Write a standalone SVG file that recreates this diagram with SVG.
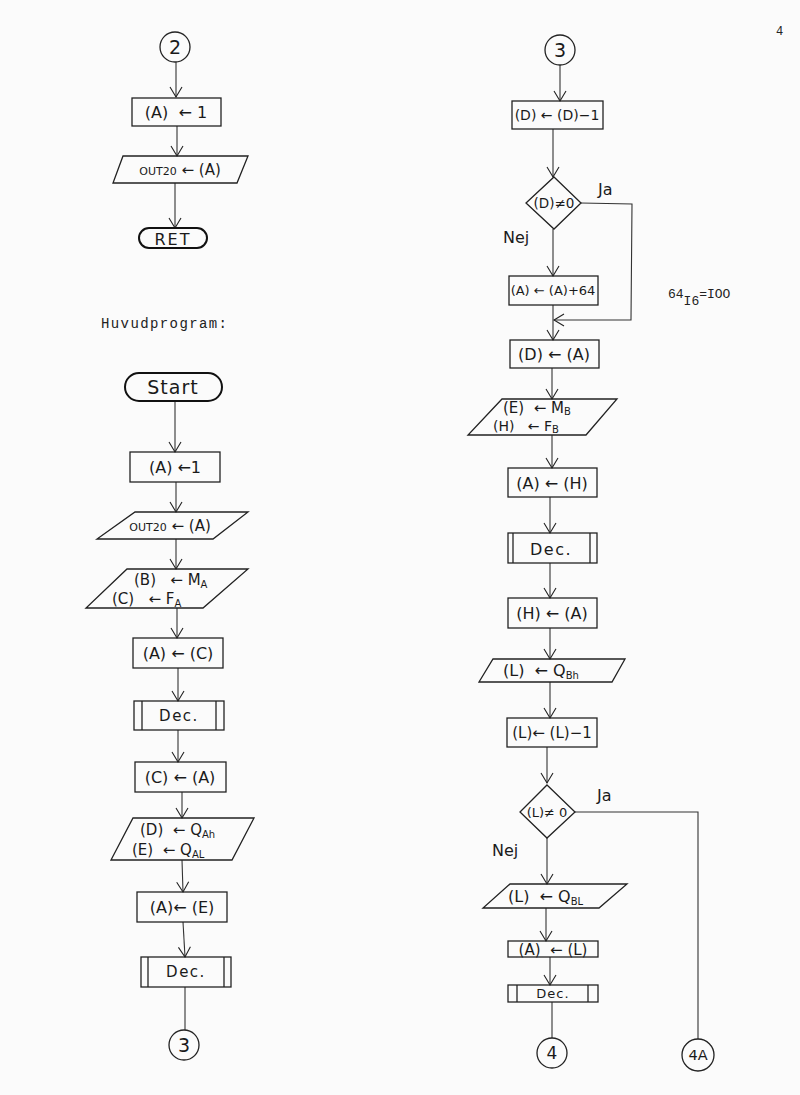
<svg xmlns="http://www.w3.org/2000/svg" width="800" height="1095" viewBox="0 0 800 1095" font-size="16">
<defs>
<marker id="av" markerWidth="14" markerHeight="14" refX="12" refY="7" orient="auto" markerUnits="userSpaceOnUse" viewBox="0 0 14 14">
<path d="M2,1 L12,7 L2,13" fill="none" stroke="#222" stroke-width="1.1"/>
</marker>
</defs>
<style>
.n { fill: none; stroke: #222; stroke-width: 1.3; }
.term { fill: none; stroke: #111; stroke-width: 2; }
.c { fill: none; stroke: #333; stroke-width: 1.1; }
.t { font-family: "DejaVu Sans", sans-serif; fill: #1a1a1a; white-space: pre; }
.m { text-anchor: middle; }
.s { font-size: 10px; }
.mono { font-family: "Liberation Mono", monospace; fill: #222; }
</style>
<rect width="800" height="1095" fill="#fbfbfb"/>
<text x="776" y="35" class="mono" font-size="12">4</text>
<text x="101" y="328" class="mono" font-size="14" letter-spacing="1.4">Huvudprogram:</text>

<g id="connectors">
<line class="c" x1="176" y1="62" x2="176" y2="97" marker-end="url(#av)"/>
<line class="c" x1="177" y1="126" x2="177" y2="156" marker-end="url(#av)"/>
<line class="c" x1="175" y1="183" x2="175" y2="228" marker-end="url(#av)"/>
<line class="c" x1="175" y1="400" x2="175" y2="452" marker-end="url(#av)"/>
<line class="c" x1="176" y1="482" x2="176" y2="512" marker-end="url(#av)"/>
<line class="c" x1="176" y1="539" x2="176" y2="569" marker-end="url(#av)"/>
<line class="c" x1="177" y1="608" x2="177" y2="638" marker-end="url(#av)"/>
<line class="c" x1="178" y1="668" x2="178" y2="701" marker-end="url(#av)"/>
<line class="c" x1="178" y1="730" x2="178" y2="762" marker-end="url(#av)"/>
<line class="c" x1="182" y1="792" x2="182" y2="818" marker-end="url(#av)"/>
<line class="c" x1="182" y1="860" x2="183" y2="892" marker-end="url(#av)"/>
<line class="c" x1="183" y1="922" x2="185" y2="957" marker-end="url(#av)"/>
<line class="c" x1="185" y1="987" x2="185" y2="1030"/>

<line class="c" x1="560" y1="65" x2="560" y2="101" marker-end="url(#av)"/>
<line class="c" x1="553" y1="129" x2="553" y2="177" marker-end="url(#av)"/>
<line class="c" x1="553" y1="229" x2="553" y2="276" marker-end="url(#av)"/>
<line class="c" x1="553" y1="305" x2="553" y2="340" marker-end="url(#av)"/>
<polyline class="c" points="581,203 632,204 631,320 554,320" marker-end="url(#av)"/>
<line class="c" x1="552" y1="368" x2="552" y2="399" marker-end="url(#av)"/>
<line class="c" x1="552" y1="435" x2="552" y2="468" marker-end="url(#av)"/>
<line class="c" x1="550" y1="497" x2="550" y2="533" marker-end="url(#av)"/>
<line class="c" x1="550" y1="563" x2="550" y2="598" marker-end="url(#av)"/>
<line class="c" x1="550" y1="628" x2="550" y2="659" marker-end="url(#av)"/>
<line class="c" x1="550" y1="682" x2="550" y2="718" marker-end="url(#av)"/>
<line class="c" x1="547" y1="747" x2="547" y2="783" marker-end="url(#av)"/>
<line class="c" x1="547" y1="838" x2="547" y2="884" marker-end="url(#av)"/>
<line class="c" x1="546" y1="908" x2="546" y2="941" marker-end="url(#av)"/>
<line class="c" x1="550" y1="957" x2="550" y2="985" marker-end="url(#av)"/>
<line class="c" x1="552" y1="1002" x2="552" y2="1038"/>
<polyline class="c" points="575,812 698,812 698,1039"/>
</g>

<!-- Left column top -->
<g id="c2"><circle class="n" cx="175" cy="47" r="15"/><text class="t m" x="175" y="54" font-size="19">2</text></g>
<g id="l1"><rect class="n" x="132" y="98" width="89" height="28"/><text class="t m" x="176" y="118">(A)  ← 1</text></g>
<g id="l2"><polygon class="n" points="123,156 248,156 237,183 113,183"/><text class="t m" x="180" y="175" font-size="15"><tspan font-size="11">OUT20</tspan> ← (A)</text></g>
<g id="ret"><rect class="term" x="139" y="228" width="68" height="20" rx="10"/><text class="t m" x="173" y="245" letter-spacing="2">RET</text></g>

<!-- Huvudprogram -->
<g id="start"><rect class="term" x="125" y="373" width="97" height="28" rx="14"/><text class="t m" x="173" y="394" font-size="19" letter-spacing="1">Start</text></g>
<g id="h1"><rect class="n" x="130" y="452" width="90" height="30"/><text class="t m" x="175" y="473">(A) ←1</text></g>
<g id="h2"><polygon class="n" points="135,512 248,512 213,539 97,539"/><text class="t m" x="170" y="531" font-size="15"><tspan font-size="11">OUT20</tspan> ← (A)</text></g>
<g id="h3"><polygon class="n" points="127,569 248,569 203,608 86,608"/>
<text class="t" x="134" y="585" font-size="15">(B)   ← M<tspan class="s" dy="3">A</tspan></text>
<text class="t" x="112" y="604" font-size="15">(C)   ← F<tspan class="s" dy="3">A</tspan></text></g>
<g id="h4"><rect class="n" x="133" y="638" width="90" height="30"/><text class="t m" x="178" y="659">(A) ← (C)</text></g>
<g id="h5"><rect class="n" x="134" y="701" width="90" height="29"/><line class="n" x1="142" y1="701" x2="142" y2="730"/><line class="n" x1="216" y1="701" x2="216" y2="730"/><text class="t m" x="179" y="721" font-size="15" letter-spacing="1.5">Dec.</text></g>
<g id="h6"><rect class="n" x="135" y="762" width="91" height="30"/><text class="t m" x="180" y="783">(C) ← (A)</text></g>
<g id="h7"><polygon class="n" points="133,818 254,818 232,860 111,860"/>
<text class="t" x="140" y="835" font-size="15">(D)  ← Q<tspan class="s" dy="3">Ah</tspan></text>
<text class="t" x="132" y="855" font-size="15">(E)  ← Q<tspan class="s" dy="3">AL</tspan></text></g>
<g id="h8"><rect class="n" x="137" y="892" width="90" height="30"/><text class="t m" x="182" y="913">(A)← (E)</text></g>
<g id="h9"><rect class="n" x="141" y="957" width="90" height="30"/><line class="n" x1="148" y1="957" x2="148" y2="987"/><line class="n" x1="224" y1="957" x2="224" y2="987"/><text class="t m" x="186" y="977" font-size="15" letter-spacing="1.5">Dec.</text></g>
<g id="c3l"><circle class="n" cx="184" cy="1045" r="15"/><text class="t m" x="184" y="1052" font-size="19">3</text></g>

<!-- Right column -->
<g id="c3r"><circle class="n" cx="560" cy="50" r="15"/><text class="t m" x="560" y="57" font-size="19">3</text></g>
<g id="r1"><rect class="n" x="512" y="101" width="91" height="28"/><text class="t m" x="557" y="120" font-size="14">(D) ← (D)−1</text></g>
<g id="r2"><polygon class="n" points="554,177 581,203 554,229 526,203"/><text class="t m" x="554" y="208" font-size="13.5">(D)≠0</text></g>
<text class="t" x="598" y="195">Ja</text>
<text class="t" x="503" y="243">Nej</text>
<g id="r3"><rect class="n" x="509" y="276" width="89" height="29"/><text class="t m" x="553" y="295" font-size="13">(A) ← (A)+64</text></g>
<text class="mono" x="668" y="298" font-size="13">64<tspan dy="7">I6</tspan><tspan dy="-7">=IOO</tspan></text>
<g id="r4"><rect class="n" x="510" y="340" width="89" height="28"/><text class="t m" x="554" y="360">(D) ← (A)</text></g>
<g id="r5"><polygon class="n" points="502,399 617,399 586,435 468,435"/>
<text class="t" x="503" y="413" font-size="15">(E)  ← M<tspan class="s" dy="2">B</tspan></text>
<text class="t" x="493" y="431" font-size="14">(H)   ← F<tspan class="s" dy="2">B</tspan></text></g>
<g id="r6"><rect class="n" x="508" y="468" width="89" height="29"/><text class="t m" x="552" y="489">(A) ← (H)</text></g>
<g id="r7"><rect class="n" x="508" y="533" width="89" height="30"/><line class="n" x1="513" y1="533" x2="513" y2="563"/><line class="n" x1="590" y1="533" x2="590" y2="563"/><text class="t m" x="551" y="555" letter-spacing="1.5">Dec.</text></g>
<g id="r8"><rect class="n" x="508" y="598" width="89" height="30"/><text class="t m" x="552" y="619">(H) ← (A)</text></g>
<g id="r9"><polygon class="n" points="493,659 625,659 612,682 479,682"/><text class="t" x="503" y="676">(L)  ← Q<tspan class="s" dy="3">Bh</tspan></text></g>
<g id="r10"><rect class="n" x="507" y="718" width="90" height="29"/><text class="t m" x="552" y="738" font-size="15">(L)← (L)−1</text></g>
<g id="r11"><polygon class="n" points="547,785 575,812 547,838 520,812"/><text class="t m" x="547" y="817" font-size="13">(L)≠ 0</text></g>
<text class="t" x="597" y="801">Ja</text>
<text class="t" x="492" y="856">Nej</text>
<g id="r12"><polygon class="n" points="510,884 627,884 599,908 483,908"/><text class="t" x="508" y="902">(L)  ← Q<tspan class="s" dy="3">BL</tspan></text></g>
<g id="r13"><rect class="n" x="508" y="941" width="90" height="16"/><text class="t m" x="553" y="955" font-size="15">(A)  ← (L)</text></g>
<g id="r14"><rect class="n" x="508" y="985" width="90" height="17"/><line class="n" x1="517" y1="985" x2="517" y2="1002"/><line class="n" x1="588" y1="985" x2="588" y2="1002"/><text class="t m" x="553" y="998" font-size="13" letter-spacing="1">Dec.</text></g>
<g id="c4"><circle class="n" cx="552" cy="1053" r="15"/><text class="t m" x="552" y="1059" font-size="17">4</text></g>
<g id="c4a"><circle class="n" cx="698" cy="1055" r="16"/><text class="t m" x="698" y="1060" font-size="14.5">4A</text></g>
</svg>
